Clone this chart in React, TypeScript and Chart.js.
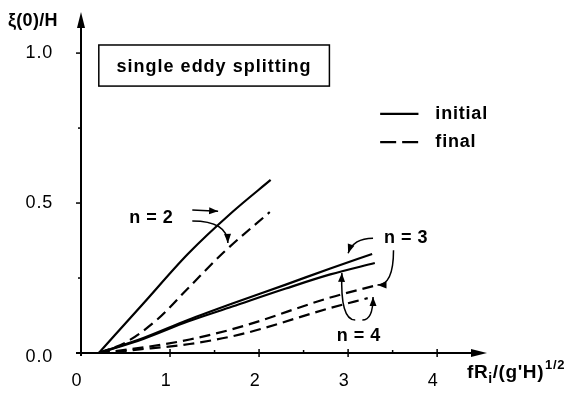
import React, { useEffect, useRef } from "react";
import { Chart, registerables } from "chart.js";

Chart.register(...registerables);

// ---- Data ----
const n2InitialX = [0.2, 0.7, 1.2, 1.7, 2.13];
const n2InitialY = [0, 0.165, 0.33, 0.47, 0.577];
const n2FinalX = [0.2, 0.5, 0.85, 1.2, 1.6, 2.12];
const n2FinalY = [0, 0.035, 0.11, 0.215, 0.335, 0.47];
const n3InitialX = [0.2, 0.7, 1.2, 1.7, 2.3, 2.8, 3.27];
const n3InitialY = [0, 0.05, 0.11, 0.165, 0.228, 0.282, 0.33];
const n4InitialX = [0.2, 0.7, 1.2, 1.7, 2.3, 2.8, 3.3];
const n4InitialY = [0, 0.047, 0.105, 0.155, 0.215, 0.262, 0.3];
const n3FinalX = [0.2, 0.66, 1.22, 1.79, 2.8, 3.33];
const n3FinalY = [0, 0.017, 0.045, 0.087, 0.185, 0.227];
const n4FinalX = [0.2, 0.66, 1.22, 1.79, 2.8, 3.22];
const n4FinalY = [0, 0.012, 0.03, 0.062, 0.15, 0.183];

const xTicks = [0, 1, 2, 3, 4];
const xTickLabels = ["0", "1", "2", "3", "4"];
const xMinorTicks = [0.5, 1.5, 2.5, 3.5];
const yTicks = [0, 0.5, 1.0];
const yTickLabels = ["0.0", "0.5", "1.0"];
const yMinorTicks = [0.25, 0.75];

const yAxisTitle = "ξ(0)/H";
const boxTitle = "single eddy splitting";
const legendLabels = ["initial", "final"];
const curveLabels = ["n = 2", "n = 3", "n = 4"];

const FONT = "'Liberation Sans', Arial, Helvetica, sans-serif";

const pts = (xs: number[], ys: number[]) => xs.map((x, i) => ({ x, y: ys[i] }));

const annotationPlugin = {
  id: "paperAnnotations",
  afterDraw(chart: any) {
    const ctx: CanvasRenderingContext2D = chart.ctx;
    const sx = chart.scales.x;
    const sy = chart.scales.y;
    const X = (v: number) => sx.getPixelForValue(v);
    const Y = (v: number) => sy.getPixelForValue(v);
    const area = chart.chartArea;
    const x0 = X(0);
    const y0 = Y(0);

    ctx.save();
    ctx.strokeStyle = "#000";
    ctx.fillStyle = "#000";
    ctx.lineCap = "butt";

    // Axes
    ctx.lineWidth = 2;
    ctx.beginPath();
    ctx.moveTo(x0, y0 + 3);
    ctx.lineTo(x0, area.top + 10);
    ctx.stroke();
    ctx.beginPath();
    ctx.moveTo(x0, area.top);
    ctx.lineTo(x0 - 4, area.top + 16);
    ctx.lineTo(x0 + 4, area.top + 16);
    ctx.closePath();
    ctx.fill();

    ctx.beginPath();
    ctx.moveTo(x0 - 5, y0);
    ctx.lineTo(area.right - 10, y0);
    ctx.stroke();
    ctx.beginPath();
    ctx.moveTo(area.right, y0);
    ctx.lineTo(area.right - 16, y0 - 4);
    ctx.lineTo(area.right - 16, y0 + 4);
    ctx.closePath();
    ctx.fill();

    // Ticks
    ctx.lineWidth = 1.5;
    yTicks.forEach((v) => {
      if (v === 0) return;
      ctx.beginPath();
      ctx.moveTo(x0 - 5, Y(v));
      ctx.lineTo(x0, Y(v));
      ctx.stroke();
    });
    yMinorTicks.forEach((v) => {
      ctx.beginPath();
      ctx.moveTo(x0 - 3, Y(v));
      ctx.lineTo(x0, Y(v));
      ctx.stroke();
    });
    xTicks.forEach((v) => {
      if (v === 0) return;
      ctx.beginPath();
      ctx.moveTo(X(v), y0 - 4);
      ctx.lineTo(X(v), y0 + 4);
      ctx.stroke();
    });
    xMinorTicks.forEach((v) => {
      ctx.beginPath();
      ctx.moveTo(X(v), y0 - 3);
      ctx.lineTo(X(v), y0);
      ctx.stroke();
    });

    // Tick labels
    ctx.font = `18px ${FONT}`;
    (ctx as any).letterSpacing = "0.8px";
    ctx.textBaseline = "middle";
    ctx.textAlign = "right";
    yTicks.forEach((v, i) => {
      ctx.fillText(yTickLabels[i], x0 - 28, Y(v) + (v === 0 ? 4 : 0));
    });
    ctx.textAlign = "center";
    xTicks.forEach((v, i) => {
      ctx.fillText(xTickLabels[i], X(v) - 4, y0 + 28);
    });

    // Axis titles
    ctx.font = `bold 18px ${FONT}`;
    (ctx as any).letterSpacing = "0.3px";
    ctx.textAlign = "left";
    ctx.textBaseline = "alphabetic";
    ctx.fillText(yAxisTitle, 8, 26);

    // x axis title: fR_i/(g'H)^{1/2}
    let tx = 467;
    const base = y0 + 25;
    (ctx as any).letterSpacing = "0.6px";
    ctx.font = `bold 19px ${FONT}`;
    ctx.fillText("fR", tx, base);
    tx += ctx.measureText("fR").width;
    ctx.font = `bold 14px ${FONT}`;
    ctx.fillText("i", tx, base + 5);
    tx += ctx.measureText("i").width;
    ctx.font = `bold 19px ${FONT}`;
    ctx.fillText("/(g'H)", tx, base);
    tx += ctx.measureText("/(g'H)").width;
    ctx.font = `bold 13px ${FONT}`;
    ctx.fillText("1/2", tx + 1, base - 9);

    // Title box
    ctx.lineWidth = 1.5;
    const bl = X(0.2), br = X(2.79), bt = Y(1.027), bb = Y(0.89);
    ctx.strokeRect(bl, bt, br - bl, bb - bt);
    ctx.font = `bold 18px ${FONT}`;
    (ctx as any).letterSpacing = "1px";
    ctx.textAlign = "center";
    ctx.textBaseline = "middle";
    ctx.fillText(boxTitle, (bl + br) / 2, (bt + bb) / 2 + 1);

    // Legend
    ctx.lineWidth = 2.2;
    ctx.beginPath();
    ctx.moveTo(X(3.36), Y(0.797));
    ctx.lineTo(X(3.79), Y(0.797));
    ctx.stroke();
    ctx.setLineDash([16, 6]);
    ctx.beginPath();
    ctx.moveTo(X(3.36), Y(0.703));
    ctx.lineTo(X(3.79), Y(0.703));
    ctx.stroke();
    ctx.setLineDash([]);
    ctx.textAlign = "left";
    ctx.font = `bold 18px ${FONT}`;
    (ctx as any).letterSpacing = "0.8px";
    ctx.fillText(legendLabels[0], X(3.98), Y(0.797));
    ctx.fillText(legendLabels[1], X(3.98), Y(0.703));

    // Curve labels
    ctx.textAlign = "center";
    (ctx as any).letterSpacing = "0.5px";
    ctx.fillText(curveLabels[0], X(0.79), Y(0.45));
    ctx.fillText(curveLabels[1], X(3.65), Y(0.383));
    ctx.fillText(curveLabels[2], X(3.12), Y(0.058));

    // Arrows
    const arrow = (
      a: [number, number],
      c: [number, number] | null,
      b: [number, number]
    ) => {
      const ax = X(a[0]), ay = Y(a[1]);
      const bx = X(b[0]), by = Y(b[1]);
      const cx = c ? X(c[0]) : (ax + bx) / 2;
      const cy = c ? Y(c[1]) : (ay + by) / 2;
      ctx.lineWidth = 1.5;
      ctx.beginPath();
      ctx.moveTo(ax, ay);
      ctx.quadraticCurveTo(cx, cy, bx, by);
      ctx.stroke();
      const ang = Math.atan2(by - cy, bx - cx);
      const len = 9, hw = 3.5;
      ctx.beginPath();
      ctx.moveTo(bx, by);
      ctx.lineTo(
        bx - len * Math.cos(ang) + hw * Math.sin(ang),
        by - len * Math.sin(ang) - hw * Math.cos(ang)
      );
      ctx.lineTo(
        bx - len * Math.cos(ang) - hw * Math.sin(ang),
        by - len * Math.sin(ang) + hw * Math.cos(ang)
      );
      ctx.closePath();
      ctx.fill();
    };
    arrow([1.25, 0.477], null, [1.54, 0.473]);
    arrow([1.25, 0.44], [1.64, 0.44], [1.65, 0.367]);
    arrow([3.28, 0.383], [3.06, 0.383], [3.0, 0.333]);
    arrow([3.51, 0.343], [3.51, 0.227], [3.33, 0.227]);
    arrow([3.08, 0.11], [2.91, 0.11], [2.93, 0.267]);
    arrow([3.16, 0.11], [3.28, 0.11], [3.28, 0.187]);

    ctx.restore();
  },
};

export default function App() {
  const canvasRef = useRef<HTMLCanvasElement | null>(null);

  useEffect(() => {
    const canvas = canvasRef.current;
    if (!canvas) return;
    const solid = { borderColor: "#000", borderWidth: 2.2, pointRadius: 0, fill: false, cubicInterpolationMode: "monotone" as const };
    const dashed = { ...solid, borderDash: [11, 6] };
    const chart = new Chart(canvas, {
      type: "line",
      data: {
        datasets: [
          { label: "n=2 initial", data: pts(n2InitialX, n2InitialY), ...solid },
          { label: "n=2 final", data: pts(n2FinalX, n2FinalY), ...dashed },
          { label: "n=3 initial", data: pts(n3InitialX, n3InitialY), ...solid },
          { label: "n=4 initial", data: pts(n4InitialX, n4InitialY), ...solid },
          { label: "n=3 final", data: pts(n3FinalX, n3FinalY), ...dashed },
          { label: "n=4 final", data: pts(n4FinalX, n4FinalY), ...dashed },
        ],
      },
      options: {
        responsive: false,
        animation: false,
        devicePixelRatio: 1,
        layout: { padding: { left: 81, right: 84, top: 12, bottom: 40 } },
        scales: {
          x: { type: "linear", min: 0, max: 4.56, display: false },
          y: { type: "linear", min: 0, max: 1.137, display: false },
        },
        plugins: {
          legend: { display: false },
          tooltip: { enabled: false },
        },
      },
      plugins: [annotationPlugin],
    });
    return () => chart.destroy();
  }, []);

  return (
    <div style={{ position: "absolute", left: 0, top: 0, width: 571, height: 393, background: "#fff" }}>
      <canvas ref={canvasRef} width={571} height={393} style={{ display: "block", width: 571, height: 393 }} />
    </div>
  );
}
